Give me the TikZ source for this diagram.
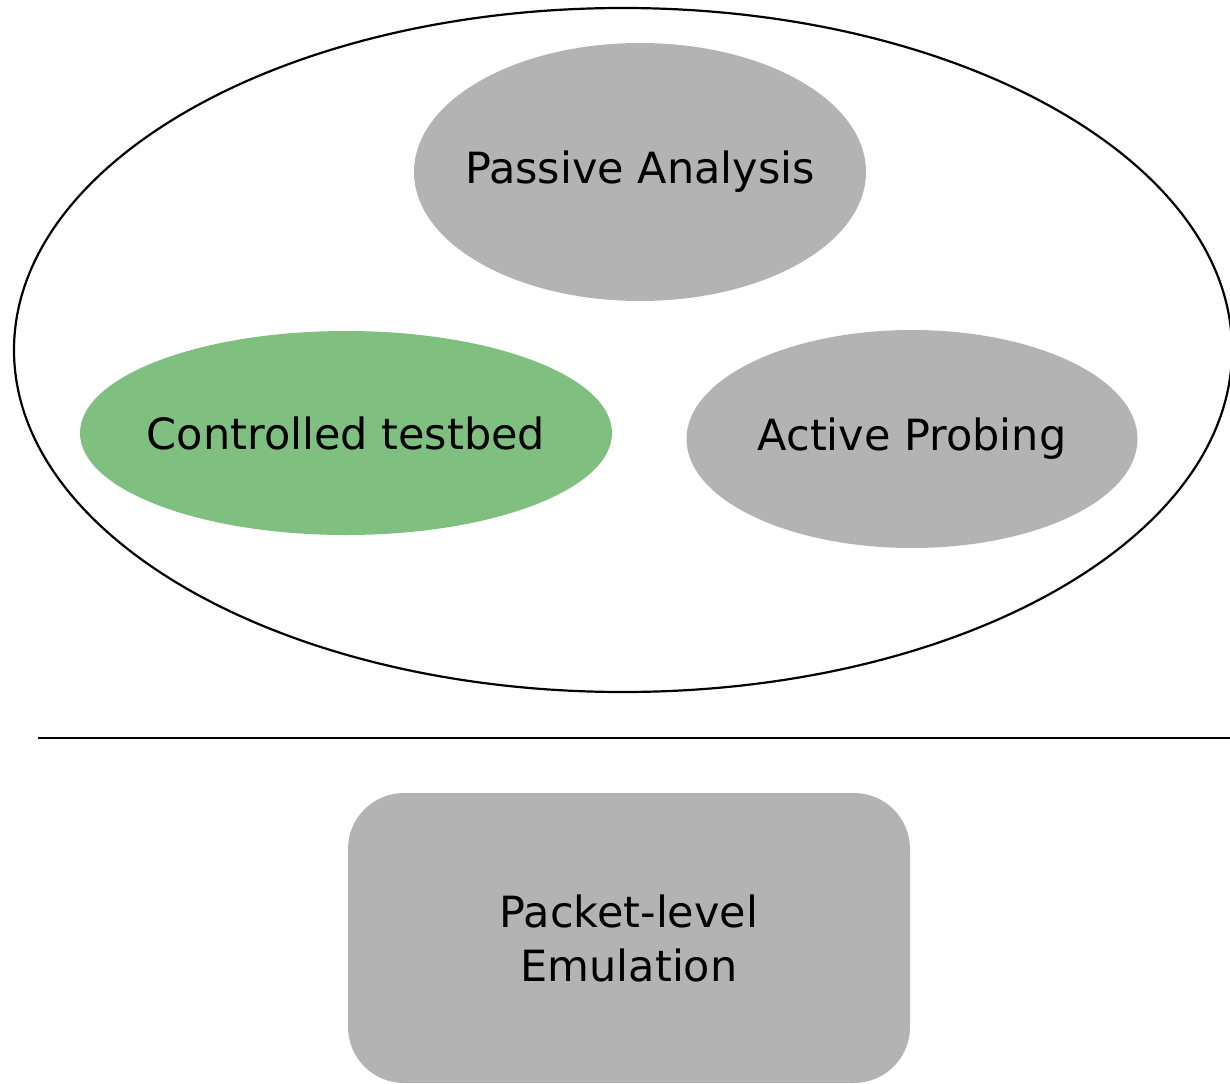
\documentclass[tikz,border=0pt]{standalone}
\usepackage{fontspec}
\setmainfont{DejaVu Sans}
\usetikzlibrary{shapes.geometric}
\definecolor{boxgray}{HTML}{B3B3B3}
\definecolor{boxgreen}{HTML}{7FBF7F}
\tikzset{
  labfont/.style={font=\fontsize{43}{54}\selectfont},
  blob/.style={ellipse, fill=boxgray, draw=none, inner sep=0pt, labfont},
  outline/.style={ellipse, draw=black, line width=2.2pt, inner sep=0pt},
}
\newcommand{\zw}[1]{\makebox[0pt]{#1}}
\begin{document}
\begin{tikzpicture}[x=1pt,y=-1pt]
\useasboundingbox (0,0) rectangle (1230,1083);
\node[outline, minimum width=1218pt, minimum height=684pt] (outer) at (623,350) {};
\node[blob, minimum width=452pt, minimum height=258pt] (passive) at (640,172) {\zw{Passive Analysis}};
\node[blob, fill=boxgreen, minimum width=532pt, minimum height=204pt] (testbed) at (346,433) {\zw{Controlled testbed}};
\node[blob, minimum width=451pt, minimum height=218pt] (active) at (912,439) {\zw{Active Probing}};
\coordinate (lineL) at (38,738);
\coordinate (lineR) at (1232,738);
\draw[line width=2pt] (lineL) -- (lineR);
\node[rectangle, rounded corners=56pt, fill=boxgray, inner sep=0pt, minimum width=562pt, minimum height=290pt, align=center, labfont] (emu) at (629,938) {Packet-level\\Emulation};
\end{tikzpicture}
\end{document}
